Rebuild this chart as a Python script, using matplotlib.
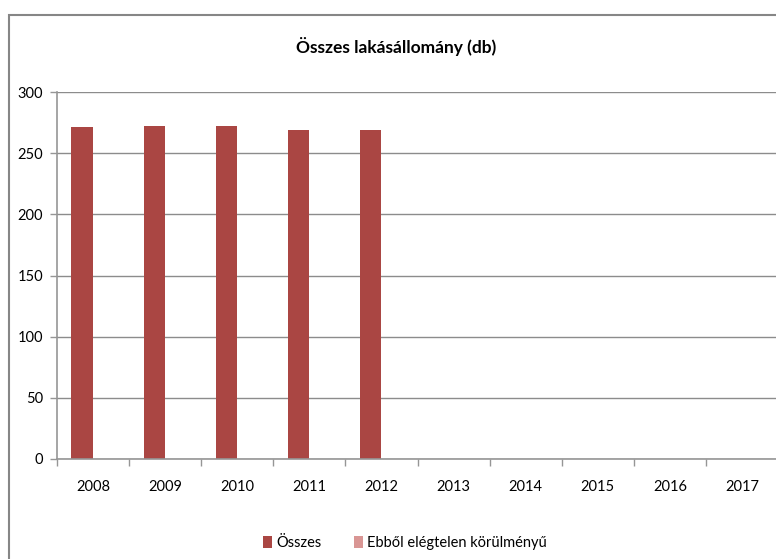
import numpy as np
import matplotlib
matplotlib.use("Agg")
import matplotlib.pyplot as plt
from matplotlib.patches import Rectangle

years = ['2008', '2009', '2010', '2011', '2012', '2013', '2014', '2015', '2016', '2017']
osszes = [271.5, 272, 272, 269, 269, 0, 0, 0, 0, 0]
elegtelen = [0, 0, 0, 0, 0, 0, 0, 0, 0, 0]
yticks = [0, 50, 100, 150, 200, 250, 300]

plt.rcParams['font.family'] = ['Lato', 'DejaVu Sans']

W, H = 776, 559
fig = plt.figure(figsize=(W / 100, H / 100), dpi=100)

# chart border (cut off at right and bottom in the original)
fig.patches.append(Rectangle((9 / W, -0.01), 1.1, (H - 15) / H + 0.01,
                             transform=fig.transFigure, fill=False,
                             edgecolor='#868686', linewidth=1.5))

ax = fig.add_axes([57 / W, (H - 459) / H, (778 - 57) / W, (459 - 92) / H])
x = np.arange(len(years))
w = 0.3
ax.bar(x - w / 2, osszes, w, color='#AA4643', label='Összes')
ax.bar(x + w / 2, elegtelen, w, color='#D99694', label='Ebből elégtelen körülményű')

ax.set_xlim(-0.5, len(years) - 0.5)
ax.set_ylim(0, 300)
ax.set_yticks(yticks)
ax.set_yticklabels([str(t) for t in yticks], fontsize=10.5)
ax.set_xticks(x)
ax.set_xticklabels(years, fontsize=10.5)
ax.set_xticks(np.arange(-0.5, len(years), 1), minor=True)
ax.tick_params(axis='x', which='major', length=0, pad=15)
ax.tick_params(axis='x', which='minor', length=5, color='#969696', width=1)
ax.tick_params(axis='y', length=5, color='#969696', width=1, pad=5)
ax.yaxis.grid(True, color='#8c8c8c', linewidth=1)
ax.set_axisbelow(True)
for s in ['top', 'right']:
    ax.spines[s].set_visible(False)
for s in ['left', 'bottom']:
    ax.spines[s].set_color('#969696')
    ax.spines[s].set_linewidth(1.2)

fig.text(396 / W, 1 - 47 / H, 'Összes lakásállomány (db)', ha='center', va='center',
         fontsize=12.5, fontweight='bold')

fig.legend(loc='center', bbox_to_anchor=(405 / W, 1 - 543 / H), ncol=2, frameon=False,
           fontsize=10.5, handlelength=0.6, handleheight=0.9, handletextpad=0.3,
           columnspacing=2.2)

fig.savefig('out.png', dpi=100)
